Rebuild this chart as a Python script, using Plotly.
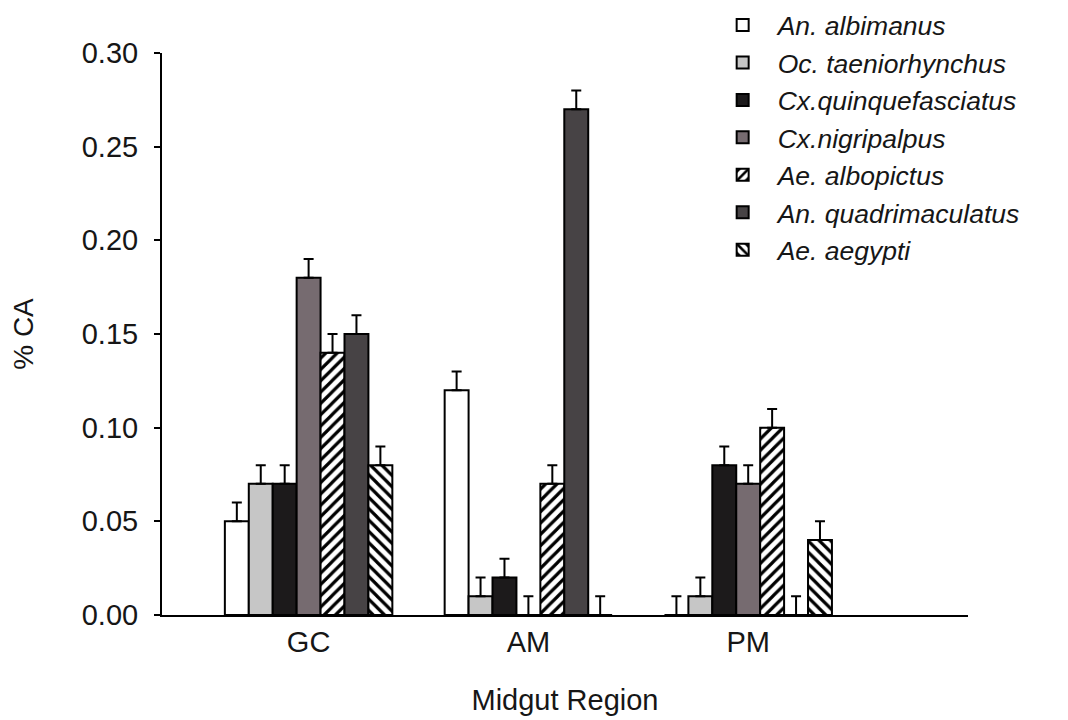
import plotly.graph_objects as go

regions = ["GC", "AM", "PM"]
species = ["An. albimanus", "Oc. taeniorhynchus", "Cx.quinquefasciatus", "Cx.nigripalpus",
           "Ae. albopictus", "An. quadrimaculatus", "Ae. aegypti"]

albimanus = [0.05, 0.12, 0.00]
taeniorhynchus = [0.07, 0.01, 0.01]
quinquefasciatus = [0.07, 0.02, 0.08]
nigripalpus = [0.18, 0.00, 0.07]
albopictus = [0.14, 0.07, 0.10]
quadrimaculatus = [0.15, 0.27, 0.00]
aegypti = [0.08, 0.00, 0.04]

err_albimanus = [0.01, 0.01, 0.01]
err_taeniorhynchus = [0.01, 0.01, 0.01]
err_quinquefasciatus = [0.01, 0.01, 0.01]
err_nigripalpus = [0.01, 0.01, 0.01]
err_albopictus = [0.01, 0.01, 0.01]
err_quadrimaculatus = [0.01, 0.01, 0.01]
err_aegypti = [0.01, 0.01, 0.01]

series = [albimanus, taeniorhynchus, quinquefasciatus, nigripalpus, albopictus, quadrimaculatus, aegypti]
errors = [err_albimanus, err_taeniorhynchus, err_quinquefasciatus, err_nigripalpus,
          err_albopictus, err_quadrimaculatus, err_aegypti]
fills = ["#ffffff", "#c6c6c6", "#1c1a1b", "#766b70", "#ffffff", "#474345", "#ffffff"]
patterns = ["", "", "", "", "/", "", "\\"]

FONT = "Liberation Sans, Arial, sans-serif"

fig = go.Figure()
for i, (name, vals, errs) in enumerate(zip(species, series, errors)):
    marker = dict(color=fills[i], line=dict(color="#000000", width=2))
    if patterns[i]:
        marker["pattern"] = dict(shape=patterns[i], fgcolor="#000000", bgcolor="#ffffff",
                                 size=8, solidity=0.4, fillmode="replace")
    fig.add_trace(go.Bar(
        x=regions, y=vals, name=name, marker=marker, legendgroup=name,
        error_y=dict(type="data", array=errs, arrayminus=[0] * len(errs), symmetric=False,
                     color="#000000", thickness=2, width=5),
    ))

fig.update_layout(
    width=1068, height=720,
    paper_bgcolor="white", plot_bgcolor="white",
    margin=dict(l=154, r=108, t=45, b=113, autoexpand=False),
    barmode="group", bargap=0.238, bargroupgap=0,
    font=dict(family=FONT, size=29, color="#161616"),
    legend=dict(
        x=0.677, y=1.092, xanchor="left", yanchor="top",
        font=dict(family=FONT, size=26.5, style="italic", color="#161616"),
        itemwidth=60, tracegroupgap=0, bgcolor="rgba(0,0,0,0)",
        traceorder="normal",
    ),
    showlegend=True,
)
fig.update_xaxes(
    range=[-0.667, 3.0], showline=True, linecolor="#000000", linewidth=2,
    ticks="", showgrid=False, zeroline=False,
    tickfont=dict(size=29),
    title=dict(text="Midgut Region", font=dict(size=29), standoff=33),
)
fig.update_yaxes(
    range=[0, 0.30], dtick=0.05, tickformat=".2f", showline=True, linecolor="#000000", linewidth=2,
    ticks="outside", ticklen=6, tickwidth=2, tickcolor="#000000", showgrid=False, zeroline=False,
    tickfont=dict(size=29), ticklabelstandoff=10,
    title=dict(text="% CA", font=dict(size=28), standoff=44),
)

fig.write_html("out.html")
